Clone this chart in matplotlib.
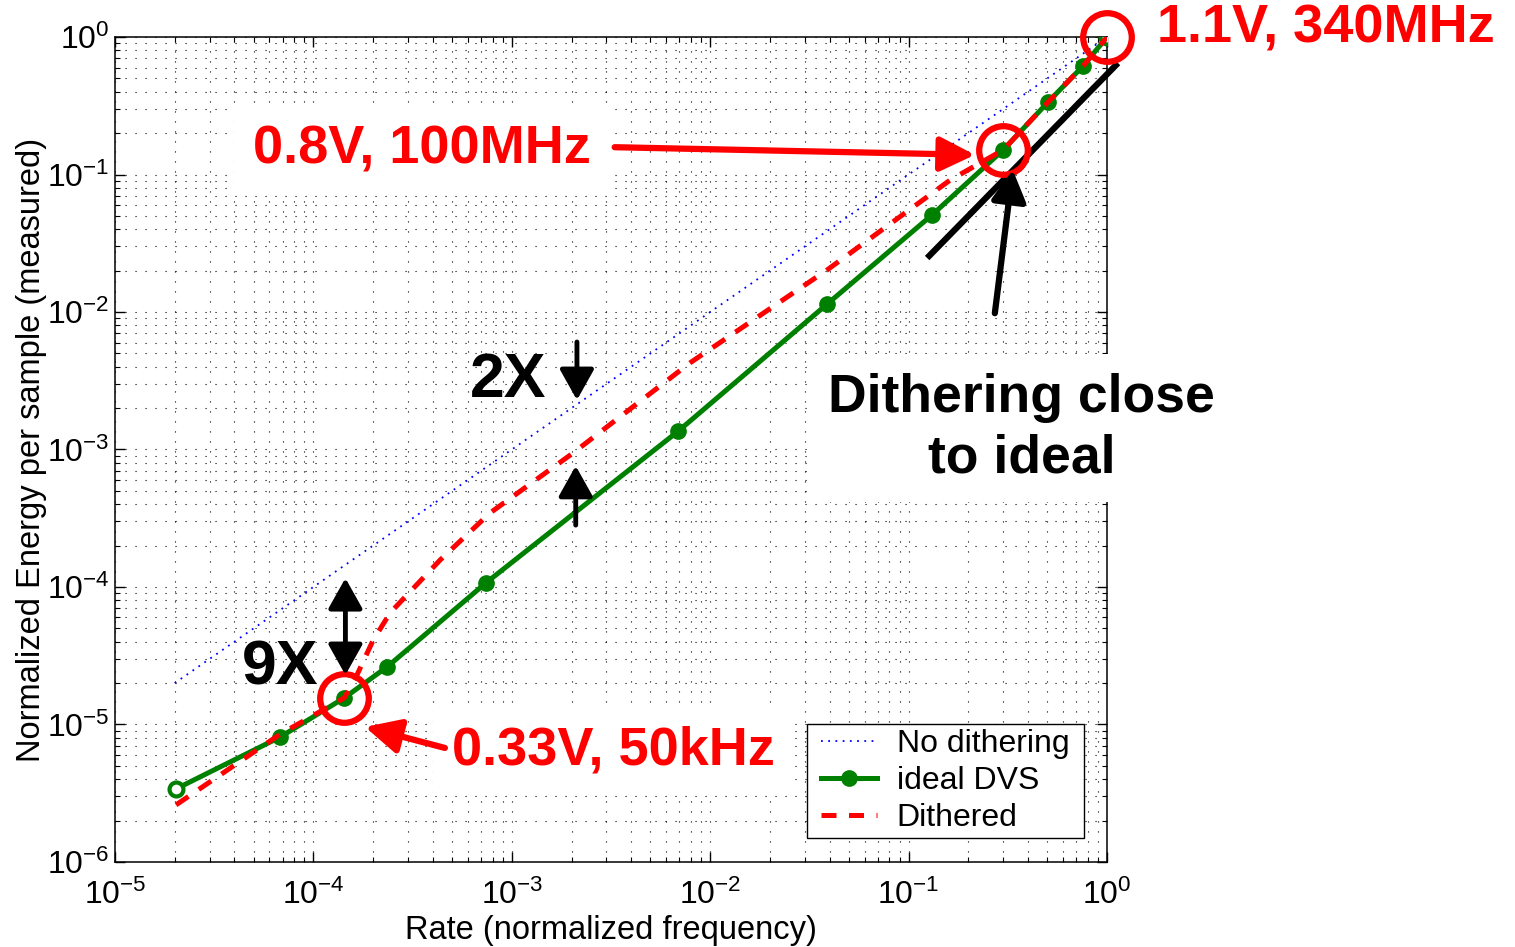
import numpy as np
import matplotlib
matplotlib.use('Agg')
import matplotlib.pyplot as plt
from matplotlib.patches import Rectangle
from matplotlib.transforms import Bbox

plt.rcParams['font.family'] = ['Liberation Sans', 'DejaVu Sans']
plt.rcParams['mathtext.fontset'] = 'custom'
plt.rcParams['mathtext.rm'] = 'Liberation Sans'
plt.rcParams['mathtext.it'] = 'Liberation Sans:italic'
plt.rcParams['mathtext.bf'] = 'Liberation Sans:bold'

# ideal DVS operating points
dvs_rate = [2.03e-5, 6.8e-5, 1.43e-4, 2.35e-4, 7.4e-4, 6.9e-3, 0.0388, 0.131, 0.30, 0.505, 0.757, 1.0]
dvs_energy = [3.4e-6, 8.1e-6, 1.56e-5, 2.62e-5, 1.07e-4, 1.36e-3, 0.0114, 0.0507, 0.151, 0.337, 0.615, 1.0]

# dithered between operating points
dith_rate = [2.03e-5, 6.8e-5, 1.43e-4, 1.66e-4, 2.0e-4, 2.44e-4, 4.35e-4, 7.76e-4,
             2.03e-3, 7.9e-3, 0.0388, 0.162, 0.30, 0.505, 0.757, 1.0]
dith_energy = [2.6e-6, 8.5e-6, 1.56e-5, 2.3e-5, 4.1e-5, 6.5e-5, 1.57e-4, 3.45e-4,
               9.4e-4, 4.26e-3, 0.0202, 0.0912, 0.151, 0.337, 0.615, 1.0]

# fixed supply, no dithering
nodith_rate = [2.0e-5, 1.0]
nodith_energy = [2.0e-5, 1.0]

# slope guide next to the ideal curve
guide_rate = [0.124, 1.136]
guide_energy = [0.0247, 0.647]

# circled operating points
circ_rate = [1.43e-4, 0.30, 1.0]
circ_energy = [1.56e-5, 0.151, 1.0]

fig = plt.figure(figsize=(15.15, 9.47), dpi=100)
ax = fig.add_axes([0.0759, 0.0898, 0.6548, 0.8711])
ax.set_xscale('log')
ax.set_yscale('log')

ax.plot(nodith_rate, nodith_energy, color='#0000ff', lw=1.3, ls=(0, (1, 3)),
        label='No dithering', zorder=3)
ax.plot(dvs_rate, dvs_energy, color='#008000', lw=3.6, marker='o', ms=11,
        markevery=list(range(1, len(dvs_rate) - 1)), label='ideal DVS', zorder=4)
ax.plot([dvs_rate[0], dvs_rate[-1]], [dvs_energy[0], dvs_energy[-1]], ls='none',
        marker='o', ms=10, mfc='white', mec='#008000', mew=3, zorder=4)
ax.plot(dith_rate, dith_energy, color='#ff0000', lw=3.6, ls=(0, (3, 2.5)),
        label='Dithered', zorder=5)
ax.plot(guide_rate, guide_energy, color='k', lw=4.5, solid_capstyle='butt',
        clip_on=False, zorder=4)
ax.plot(circ_rate, circ_energy, ls='none', marker='o', ms=35, mfc='none',
        mec='#ff0000', mew=4.5, clip_on=False, zorder=6)

ax.set_xlim(1e-5, 1)
ax.set_ylim(1e-6, 1)
ax.grid(True, which='both', color='k', lw=0.8, ls=(0, (1, 8)))
ax.tick_params(which='both', direction='in', top=True, right=True, labelsize=23)
ax.tick_params(which='major', length=7, width=1)
ax.tick_params(which='minor', length=3.5, width=0.8)
ax.tick_params(axis='x', pad=13)
ax.tick_params(axis='y', pad=4)
for s in ax.spines.values():
    s.set_linewidth(1.1)

ax.set_xlabel('Rate (normalized frequency)', fontsize=23.5, labelpad=3)
ax.set_ylabel('Normalized Energy per sample (measured)', fontsize=23.5, labelpad=0)

leg = ax.legend(loc='lower right', bbox_to_anchor=(0.9667, 0.029), fontsize=23,
                handlelength=1.75, handletextpad=0.6, labelspacing=0.22,
                borderpad=0.15, borderaxespad=0, numpoints=1, fancybox=False,
                framealpha=1, edgecolor='k')
leg.set_zorder(10)

box = dict(boxstyle='square,pad=0.35', facecolor='white', edgecolor='none')
ax.text(1.79, 1.16, '1.1V, 340MHz', color='#ff0000', fontsize=39, weight='bold',
        ha='left', va='center', zorder=7, clip_on=False)
ax.text(4.96e-5, 0.151, '0.8V, 100MHz', color='#ff0000', fontsize=39, weight='bold',
        ha='left', va='center', bbox=box, zorder=7)
ax.text(5.0e-4, 6.5e-6, '0.33V, 50kHz', color='#ff0000', fontsize=39, weight='bold',
        ha='left', va='center', bbox=box, zorder=7)
ax.text(0.37, 1.43e-3, 'Dithering close\nto ideal', color='k', fontsize=38.5,
        weight='bold', ha='center', va='center', multialignment='center',
        linespacing=1.27, bbox=box, zorder=7)
ax.text(9.6e-4, 3.2e-3, '2X', color='k', fontsize=45, weight='bold',
        ha='center', va='center', zorder=7)
ax.text(6.8e-5, 2.58e-5, '9X', color='k', fontsize=45, weight='bold',
        ha='center', va='center', zorder=7)

red_arrow = dict(arrowstyle='-|>,head_length=0.85,head_width=0.42', color='#ff0000',
                 lw=4.5, mutation_scale=25, shrinkA=0, shrinkB=0)
blk_arrow = dict(arrowstyle='-|>,head_length=0.75,head_width=0.42', color='k',
                 lw=3.5, mutation_scale=25, shrinkA=0, shrinkB=0)
ax.annotate('', xy=(0.216, 0.139), xytext=(3.3e-3, 0.158), arrowprops=red_arrow, zorder=8)
ax.annotate('', xy=(1.82e-4, 9.6e-6), xytext=(4.6e-4, 6.75e-6), arrowprops=red_arrow, zorder=8)
ax.annotate('', xy=(0.335, 0.108), xytext=(0.272, 9.8e-3),
            arrowprops=dict(blk_arrow, lw=4.5), zorder=8)
ax.annotate('', xy=(2.13e-3, 2.29e-3), xytext=(2.13e-3, 6.05e-3), arrowprops=blk_arrow, zorder=8)
ax.annotate('', xy=(2.1e-3, 7.6e-4), xytext=(2.1e-3, 2.82e-4), arrowprops=blk_arrow, zorder=8)
ax.annotate('', xy=(1.45e-4, 2.29e-5), xytext=(1.45e-4, 1.16e-4),
            arrowprops=dict(blk_arrow, arrowstyle='<|-|>,head_length=0.75,head_width=0.42'),
            zorder=8)

# legend frame: a bit wider left/right than matplotlib's uniform borderpad
fig.canvas.draw()
bb = leg.get_frame().get_window_extent()
leg.get_frame().set_visible(False)
hpad = 10
bb = fig.transFigure.inverted().transform_bbox(
    Bbox.from_extents(bb.x0 - hpad, bb.y0, bb.x1 + hpad, bb.y1))
ax.add_artist(Rectangle((bb.x0, bb.y0), bb.width, bb.height, transform=fig.transFigure,
                        facecolor='white', edgecolor='k', lw=1.0, zorder=9, clip_on=False))

fig.savefig('out.png', dpi=100)
